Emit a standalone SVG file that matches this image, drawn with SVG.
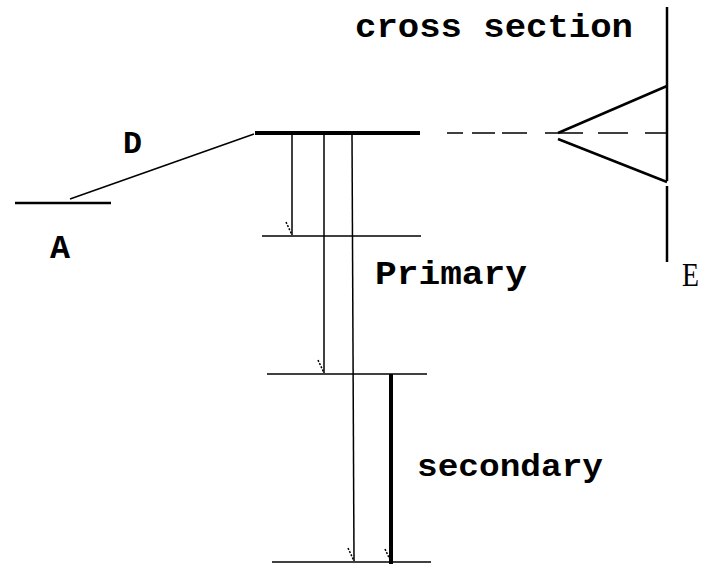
<svg xmlns="http://www.w3.org/2000/svg" width="702" height="567" viewBox="0 0 702 567">
<style>
.t{font-family:"Liberation Mono","DejaVu Sans Mono",monospace;font-weight:bold;fill:#000}
.ln{stroke:#000;stroke-width:1.5;fill:none}
.thk{stroke:#000;stroke-width:4;fill:none}
.mid{stroke:#000;stroke-width:2.5;fill:none}
.tick{stroke:#000;stroke-width:1.5;stroke-dasharray:2 1.5;fill:none}
</style>
<rect width="702" height="567" fill="#fff"/>
<g id="levelA">
<line class="mid" x1="15" y1="203" x2="111" y2="203"/>
<text class="t" x="50" y="258" font-size="34" textLength="20" lengthAdjust="spacingAndGlyphs">A</text>
</g>
<g id="labelD">
<text class="t" x="123" y="153" font-size="32" textLength="19" lengthAdjust="spacingAndGlyphs">D</text>
</g>
<g id="levelP">
<line class="thk" x1="255" y1="133" x2="420" y2="133"/>
</g>
<g id="level1">
<line class="ln" x1="262" y1="236" x2="421" y2="236"/>
<text class="t" x="375" y="284" font-size="33" textLength="152" lengthAdjust="spacingAndGlyphs">Primary</text>
</g>
<g id="level2">
<line class="ln" x1="267" y1="374" x2="427" y2="374"/>
<line class="thk" x1="391" y1="374" x2="391" y2="564"/>
<text class="t" x="417" y="476" font-size="32" textLength="186" lengthAdjust="spacingAndGlyphs">secondary</text>
</g>
<g id="level3">
<line class="ln" x1="272" y1="562" x2="431" y2="562"/>
</g>
<g id="crossSection">
<line class="mid" x1="667" y1="7" x2="667" y2="181"/>
<line class="mid" x1="667" y1="186" x2="667" y2="262"/>
<line class="mid" x1="558" y1="133" x2="667" y2="86"/>
<line class="mid" x1="558" y1="139" x2="667" y2="182"/>
<text class="t" x="355" y="37" font-size="34" textLength="278" lengthAdjust="spacingAndGlyphs">cross section</text>
<text x="682" y="286" font-family="Liberation Serif,serif" font-size="34" textLength="17" lengthAdjust="spacingAndGlyphs" fill="#000">E</text>
</g>
<g id="connectors">
<line class="ln" x1="70" y1="199" x2="254" y2="134"/>
<path d="M447 133H463M472 133H495M502 133H527M545 133H583M598 133H628M645 133H667" stroke="#000" stroke-width="1.5" fill="none"/>
<line class="ln" x1="292" y1="135" x2="292" y2="235"/>
<line class="tick" x1="286" y1="222" x2="292" y2="235"/>
<line class="ln" x1="324" y1="135" x2="324" y2="373"/>
<line class="tick" x1="318" y1="360" x2="324" y2="373"/>
<line class="ln" x1="352" y1="135" x2="354" y2="561"/>
<line class="tick" x1="348" y1="548" x2="354" y2="561"/>
<line class="tick" x1="385" y1="549" x2="391" y2="562"/>
</g>
</svg>
